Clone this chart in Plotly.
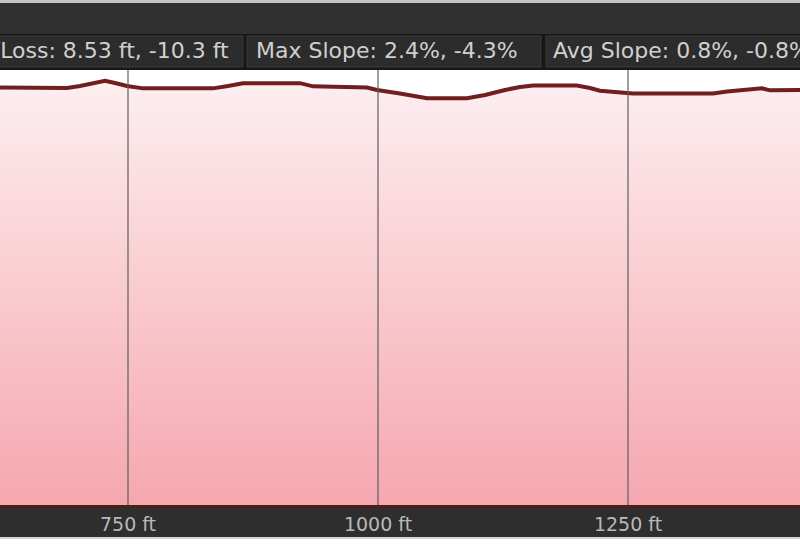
import plotly.graph_objects as go

# ---- data ----
distance_ft = [615, 662, 689, 702, 717, 727, 737, 749, 765, 835, 850, 865, 922, 935, 989, 999,
               1022, 1049, 1089, 1107, 1127, 1142, 1155, 1199, 1212, 1222, 1255, 1335, 1349,
               1379, 1384, 1392, 1407, 1430]
elevation_ft = [684.6, 684.55, 684.5, 685.0, 685.75, 686.3, 685.75, 685.0, 684.4, 684.4, 685.0,
                685.7, 685.7, 684.9, 684.6, 684.0, 683.1, 681.9, 681.9, 682.75, 684.0, 684.75,
                685.1, 685.1, 684.5, 683.8, 683.1, 683.1, 683.6, 684.2, 684.4, 683.9, 684.0, 684.0]
tick_values = [750, 1000, 1250]
tick_labels = ["750 ft", "1000 ft", "1250 ft"]
stats_labels = ["Elevation Gain/Loss: 8.53 ft, -10.3 ft",
                "Max Slope: 2.4%, -4.3%",
                "Avg Slope: 0.8%, -0.8%"]

W, H = 800, 552
TOP, BOT = 70, 505  # plot area in pixels


def py(p):
    return (BOT - p) / (BOT - TOP)


def px(p):
    return p / W


fig = go.Figure()
fig.add_trace(go.Scatter(
    x=distance_ft, y=elevation_ft, mode="lines",
    line=dict(color="#701e1e", width=4),
    fill="tozeroy",
    fillgradient=dict(type="vertical", start=580, stop=686,
                      colorscale=[[0, "#f5a7ae"], [1, "#fdeef0"]]),
    hoverinfo="skip", showlegend=False,
))

shapes = []


def rect(x0, y0, x1, y1, color, line=None):
    shapes.append(dict(type="rect", xref="paper", yref="paper",
                       x0=px(x0), x1=px(x1), y0=py(y0), y1=py(y1),
                       fillcolor=color, line=dict(width=0) if line is None else line,
                       layer="below"))


# top bars
rect(-5, 0, 805, 3, "#c4c4c4")
rect(-5, 3, 805, 34, "#303030")
rect(-5, 34, 805, 70, "#171717")
rect(-20, 36, 243, 67, "#2c2c2c", dict(color="#3a3a3a", width=1))
rect(247, 36, 541, 67, "#2c2c2c", dict(color="#3a3a3a", width=1))
rect(546, 36, 820, 67, "#2c2c2c", dict(color="#3a3a3a", width=1))
# bottom bar
rect(-5, 506, 805, 537, "#2e2e2e")
rect(-5, 537, 805, 539, "#d4d4d4")

# vertical grid lines drawn above the filled area, at the tick values
for tv in tick_values:
    shapes.append(dict(type="line", xref="x", yref="paper", x0=tv, x1=tv, y0=0, y1=1,
                       line=dict(color="#5e5e5e", width=1.2), layer="above"))

font_stats = dict(family="DejaVu Sans", size=22, color="#d0d0d0")
annotations = [
    dict(text=stats_labels[0], x=px(231), y=py(51), xref="paper", yref="paper",
         xanchor="right", yanchor="middle", showarrow=False, font=font_stats),
    dict(text=stats_labels[1], x=px(254), y=py(51), xref="paper", yref="paper",
         xanchor="left", yanchor="middle", showarrow=False, font=font_stats),
    dict(text=stats_labels[2], x=px(551), y=py(51), xref="paper", yref="paper",
         xanchor="left", yanchor="middle", showarrow=False, font=font_stats),
]

fig.update_layout(
    width=W, height=H,
    margin=dict(l=0, r=0, t=TOP, b=H - BOT),
    paper_bgcolor="white", plot_bgcolor="white",
    shapes=shapes, annotations=annotations,
    xaxis=dict(range=[622, 1422], tickvals=tick_values, ticktext=tick_labels,
               showgrid=False,
               showline=True, linecolor="#4e1d1d", linewidth=3,
               ticks="", ticklabelstandoff=0,
               tickfont=dict(family="DejaVu Sans", size=19, color="#b9b9b9"),
               zeroline=False, fixedrange=True),
    yaxis=dict(range=[580, 689], visible=False, showgrid=False, zeroline=False,
               fixedrange=True),
)

fig.write_html("out.html", config={"displayModeBar": False},
               post_script="document.body.style.margin='0';document.body.style.overflow='hidden';")
